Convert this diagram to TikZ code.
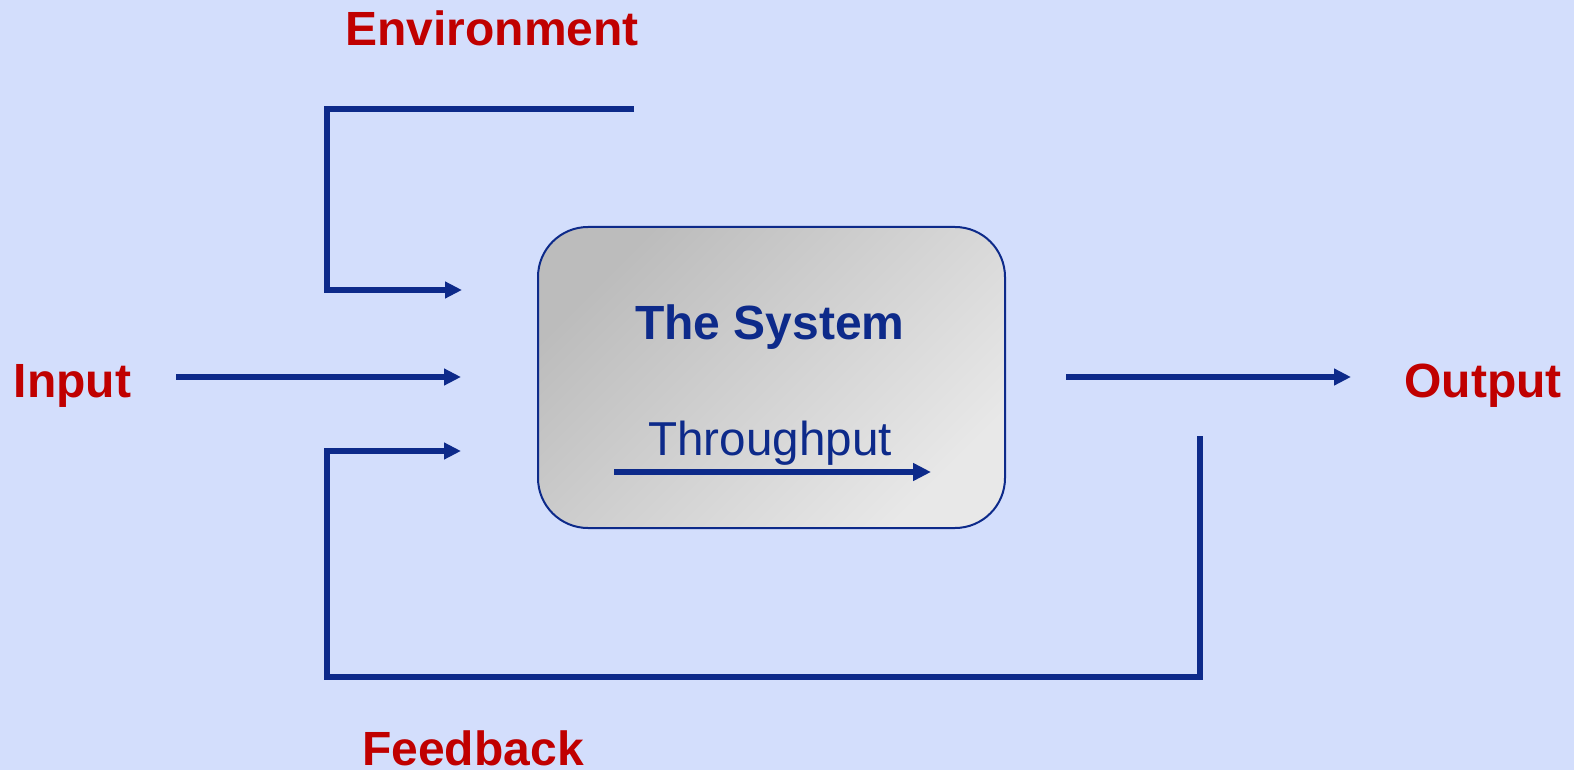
\documentclass[tikz,border=0pt]{standalone}
\usepackage{fontspec}
\setmainfont{Liberation Sans}
\usetikzlibrary{arrows.meta}
\definecolor{bg}{RGB}{211,222,252}
\definecolor{lineblue}{RGB}{13,42,138}
\definecolor{labred}{RGB}{192,0,0}
\definecolor{boxdark}{RGB}{188,188,188}
\definecolor{boxlight}{RGB}{232,232,232}
\begin{document}
\begin{tikzpicture}[x=0.5pt,y=0.5pt,
  flow/.style={draw=lineblue, line width=2.9pt, -{Triangle[length=8.5pt,width=8pt]}},
  lab/.style={text=labred, font=\fontsize{24}{29}\selectfont\bfseries, inner sep=0pt, anchor=base},
  sysbox/.style={draw=lineblue, line width=1pt, rounded corners=25pt,
    minimum width=233.5pt, minimum height=150.5pt,
    top color=boxdark, bottom color=boxlight, shading angle=45},
]
\fill[bg] (0,0) rectangle (1574,-770);
\useasboundingbox (0,0) rectangle (1574,-770);

% labels
\node[lab] (env) at (492,-46) {Environment};
\node[lab] (inp) at (72.5,-397) {Input};
\node[lab] (out) at (1483,-397) {Output};
\node[lab] (fb) at (473,-765) {Feedback};

% system box
\node[sysbox] (sys) at (771.5,-377.5) {};
\node[text=lineblue, font=\fontsize{24}{29}\selectfont\bfseries, inner sep=0pt, anchor=base] (systxt) at (770,-339) {The System};
\node[text=lineblue, font=\fontsize{23.8}{29}\selectfont, inner sep=0pt, anchor=base] (thr) at (770,-455) {Throughput};

% coordinates
\coordinate (e0) at (634,-109);
\coordinate (e1) at (327,-109);
\coordinate (e2) at (327,-290);
\coordinate (e3) at (462,-290);
\coordinate (i0) at (176,-377);
\coordinate (i1) at (461,-377);
\coordinate (o0) at (1066,-377);
\coordinate (o1) at (1351,-377);
\coordinate (f0) at (1200,-436);
\coordinate (f1) at (1200,-677);
\coordinate (f2) at (327,-677);
\coordinate (f3) at (327,-451);
\coordinate (f4) at (461,-451);
\coordinate (t0) at (614,-472);
\coordinate (t1) at (931,-472);

% connectors
\draw[flow] (e0) -- (e1) -- (e2) -- (e3);
\draw[flow] (i0) -- (i1);
\draw[flow] (o0) -- (o1);
\draw[flow] (f0) -- (f1) -- (f2) -- (f3) -- (f4);
\draw[flow, -{Triangle[length=9pt,width=8.5pt]}] (t0) -- (t1);
\end{tikzpicture}
\end{document}
